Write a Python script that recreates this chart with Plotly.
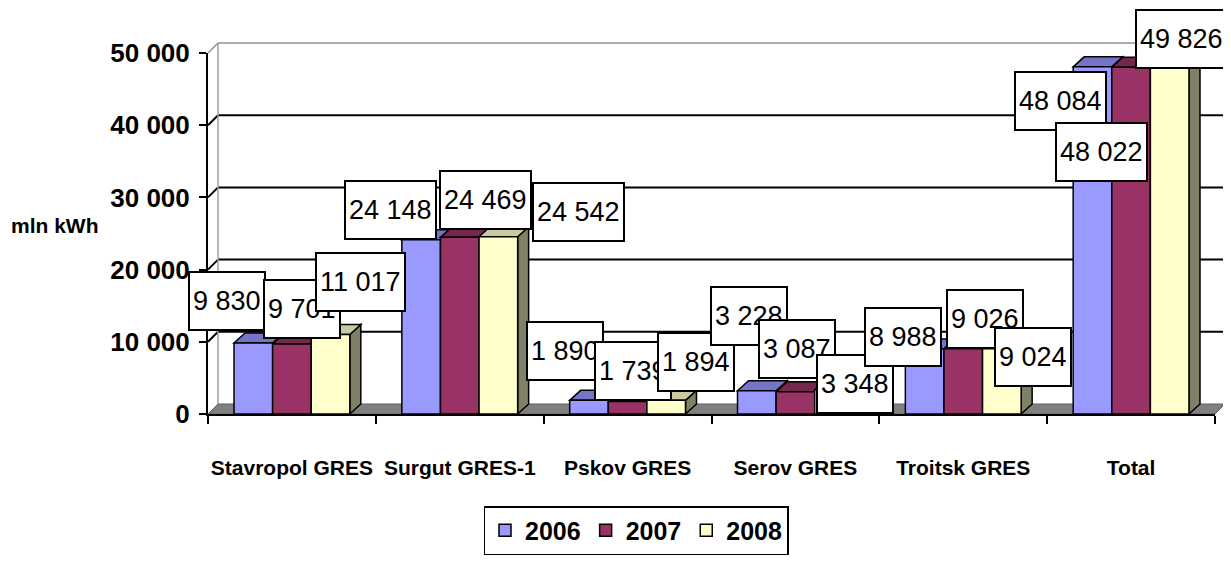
import plotly.graph_objects as go

# ---------------- data ----------------
categories = ["Stavropol GRES", "Surgut GRES-1", "Pskov GRES", "Serov GRES", "Troitsk GRES", "Total"]
years = ["2006", "2007", "2008"]
v2006 = [9830, 24148, 1890, 3228, 8988, 48084]
v2007 = [9701, 24469, 1739, 3087, 9026, 48022]
v2008 = [11017, 24542, 1894, 3348, 9024, 49826]
y_tickvals = [0, 10000, 20000, 30000, 40000, 50000]
y_ticktext = ["0", "10 000", "20 000", "30 000", "40 000", "50 000"]
y_title = "mln kWh"

series = [v2006, v2007, v2008]

# ---------------- styles ----------------
front_colors = ["#9999FF", "#993366", "#FFFFCC"]
top_colors = ["#7474C8", "#74264C", "#CACAA0"]
side_colors = ["#6868B0", "#661F40", "#808066"]
FONT = "Arial, Liberation Sans, sans-serif"

# data-label offsets in pixels (dx right, dy down) relative to each bar top
label_shifts = [
    [(-26, -42), (10, -35), (30, -52)],
    [(-31, -30), (26, -37), (80, -25)],
    [(-24, -49), (5, -30), (30, -38)],
    [(-8, -75), (2, -43), (21, -6)],
    [(-22, -12), (22, -30), (31, 8)],
    [(-32, 34), (-30, 85), (12, -15)],
]

PAGE_OFF = 8  # default body margin of the html page
W, H = 1231 - PAGE_OFF, 563 - PAGE_OFF
L, T = 208 - PAGE_OFF, 53 - PAGE_OFF
plot_w, plot_h = 1007, 361
R = W - L - plot_w
B = H - T - plot_h
plot_bottom_ref = 414
bargap = 0.31
bar_w = (1 - bargap) / 3
depth_px_x, depth_px_y = 11, 10
ymax = y_tickvals[-1]

fig = go.Figure()
for j, (yr, vals) in enumerate(zip(years, series)):
    fig.add_trace(go.Bar(
        name=yr, x=categories, y=vals,
        marker=dict(color=front_colors[j], line=dict(color="black", width=1.5)),
    ))

shapes = []
# back wall (3D look) in paper coordinates
dxp = 10 / plot_w
dyp = 10 / plot_h
for v in y_tickvals[1:-1]:
    yp = v / ymax
    shapes.append(dict(type="line", xref="paper", yref="paper", x0=dxp, x1=1 + dxp,
                       y0=yp + dyp, y1=yp + dyp, line=dict(color="black", width=2), layer="below"))
    shapes.append(dict(type="line", xref="paper", yref="paper", x0=0, x1=dxp,
                       y0=yp, y1=yp + dyp, line=dict(color="black", width=2), layer="below"))
shapes.append(dict(type="line", xref="paper", yref="paper", x0=dxp, x1=1 + dxp,
                   y0=1 + dyp, y1=1 + dyp, line=dict(color="#909090", width=1.5), layer="below"))
shapes.append(dict(type="line", xref="paper", yref="paper", x0=0, x1=dxp,
                   y0=1, y1=1 + dyp, line=dict(color="#909090", width=1.5), layer="below"))
shapes.append(dict(type="line", xref="paper", yref="paper", x0=dxp, x1=dxp,
                   y0=dyp, y1=1 + dyp, line=dict(color="#A0A0A0", width=1.5), layer="below"))
shapes.append(dict(type="line", xref="paper", yref="paper", x0=1 + dxp, x1=1 + dxp,
                   y0=dyp, y1=1 + dyp, line=dict(color="#A0A0A0", width=1.5), layer="below"))
# floor
shapes.append(dict(type="path", xref="paper", yref="paper",
                   path=f"M 0,0 L 1,0 L {1+dxp},{dyp} L {dxp},{dyp} Z",
                   fillcolor="#808080", line=dict(color="#606060", width=1), layer="below"))

# bar top and side faces
ddx = depth_px_x / (plot_w / len(categories))
ddy = depth_px_y * ymax / plot_h
for j, vals in enumerate(series):
    for i, v in enumerate(vals):
        xc = i + (j - 1) * bar_w
        x0, x1 = xc - bar_w / 2, xc + bar_w / 2
        shapes.append(dict(type="path", xref="x", yref="y",
                           path=f"M {x1},0 L {x1+ddx},{ddy} L {x1+ddx},{v+ddy} L {x1},{v} Z",
                           fillcolor=side_colors[j], line=dict(color="black", width=1.5), layer="below"))
        shapes.append(dict(type="path", xref="x", yref="y",
                           path=f"M {x0},{v} L {x0+ddx},{v+ddy} L {x1+ddx},{v+ddy} L {x1},{v} Z",
                           fillcolor=top_colors[j], line=dict(color="black", width=1.5), layer="below"))

annotations = []
for i in range(len(categories)):
    for j, vals in enumerate(series):
        v = vals[i]
        dx, dy = label_shifts[i][j]
        annotations.append(dict(
            x=i + (j - 1) * bar_w, y=v, xref="x", yref="y",
            text=f"{v:,}".replace(",", " "), showarrow=False,
            xanchor="center", yanchor="middle", xshift=dx, yshift=-dy,
            font=dict(family=FONT, size=27, color="black"),
            bgcolor="white", bordercolor="black", borderwidth=2, borderpad=3, height=50,
        ))
annotations.append(dict(
    x=(55 - 208) / plot_w, y=(plot_bottom_ref - 225) / plot_h, xref="paper", yref="paper",
    text=y_title, showarrow=False, xanchor="center", yanchor="middle",
    font=dict(family=FONT, size=21, color="black", weight="bold"),
))

fig.update_layout(
    width=W, height=H,
    margin=dict(l=L, r=R, t=T, b=B, autoexpand=False),
    paper_bgcolor="white", plot_bgcolor="white",
    barmode="group", bargap=bargap, bargroupgap=0,
    font=dict(family=FONT, color="black"),
    shapes=shapes, annotations=annotations,
    legend=dict(
        orientation="h", x=(636 - 208) / plot_w, xanchor="center",
        y=(plot_bottom_ref - 506) / plot_h, yanchor="top",
        bordercolor="black", borderwidth=1.5, bgcolor="white",
        font=dict(family=FONT, size=25, color="black", weight="bold"),
        itemwidth=30,
    ),
    xaxis=dict(
        type="category", range=[-0.5, len(categories) - 0.5],
        showline=True, linecolor="black", linewidth=2,
        ticks="outside", tickson="boundaries", ticklen=8, tickwidth=2, tickcolor="black",
        ticklabelstandoff=34, showgrid=False, tickangle=0, automargin=False,
        tickfont=dict(family=FONT, size=21, color="black", weight="bold"),
    ),
    yaxis=dict(
        range=[0, ymax], tickvals=y_tickvals, ticktext=y_ticktext,
        showline=True, linecolor="black", linewidth=2,
        ticks="outside", ticklen=7, tickwidth=2, tickcolor="black",
        ticklabelstandoff=4, showgrid=False, zeroline=False, automargin=False,
        tickfont=dict(family=FONT, size=26, color="black", weight="bold"),
    ),
)

fig.write_html("out.html")
